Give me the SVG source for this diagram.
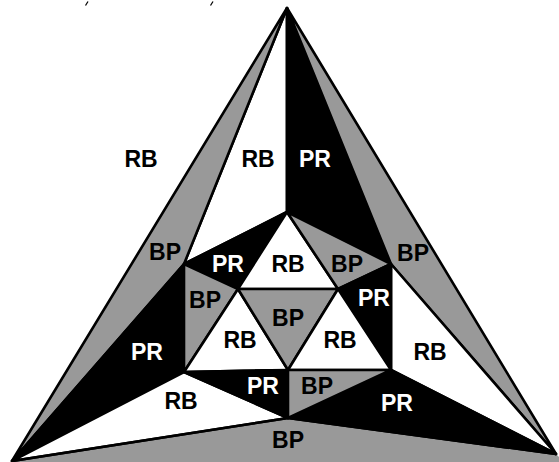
<svg xmlns="http://www.w3.org/2000/svg" width="559" height="462" viewBox="0 0 559 462">
<style>
.r{stroke:#000;stroke-width:2.6;stroke-linejoin:round}
.w{fill:#fff}.k{fill:#000}.g{fill:#999}
text{font-family:"Liberation Sans",Arial,sans-serif;font-weight:bold;font-size:23px;text-anchor:middle}
.tw{fill:#fff}.tk{fill:#000}
</style>
<rect width="559" height="462" fill="#fff"/>
<g id="marks" stroke="#000" stroke-width="1.3">
<line x1="85.5" y1="5.5" x2="88" y2="1.5"/>
<line x1="210.5" y1="5.5" x2="213" y2="1.5"/>
</g>
<g id="outer-ring">
<polygon id="bp-bottom" class="g" points="12,461 288,418 556,454 559,457 559,462 11,462" stroke="none"/>
<polygon id="rb-top" class="r w" points="287,8 184,264 287,212"/>
<polygon id="pr-top" class="r k" points="287,8 287,212 391,264"/>
<polygon id="bp-left" class="r g" points="287,8 184,264 12,461"/>
<polygon id="bp-right" class="r g" points="287,8 391,264 556,454"/>
<polygon id="pr-left" class="r k" points="184,264 184,372 12,461"/>
<polygon id="rb-right" class="r w" points="391,264 391,370 556,454"/>
<polygon id="rb-bl" class="r w" points="184,372 288,418 12,461"/>
<polygon id="pr-br" class="r k" points="391,370 288,418 556,454"/>
<polyline points="12,461 288,418 556,454" fill="none" stroke="#000" stroke-width="2.6" stroke-linejoin="round"/>
</g>
<g id="hexagon">
<polygon id="h-pr1" class="r k" points="287,212 184,264 238,289"/>
<polygon id="h-rb1" class="r w" points="287,212 238,289 338,289"/>
<polygon id="h-bp1" class="r g" points="287,212 391,264 338,289"/>
<polygon id="h-pr2" class="r k" points="391,264 338,289 391,370"/>
<polygon id="h-bp2" class="r g" points="184,264 238,289 184,372"/>
<polygon id="h-rb2" class="r w" points="238,289 184,372 288,370"/>
<polygon id="h-bp3" class="r g" points="238,289 338,289 288,370"/>
<polygon id="h-rb3" class="r w" points="338,289 288,370 391,370"/>
<polygon id="h-pr3" class="r k" points="184,372 288,370 288,418"/>
<polygon id="h-bp4" class="r g" points="288,370 391,370 288,418"/>
</g>
<g id="labels">
<text class="tk" x="141" y="167">RB</text>
<text class="tk" x="258" y="167">RB</text>
<text class="tw" x="315" y="167">PR</text>
<text class="tk" x="165" y="260">BP</text>
<text class="tk" x="413" y="261">BP</text>
<text class="tw" x="228" y="272">PR</text>
<text class="tk" x="288" y="272">RB</text>
<text class="tk" x="347" y="272">BP</text>
<text class="tk" x="205" y="308">BP</text>
<text class="tw" x="374" y="306">PR</text>
<text class="tk" x="288" y="326">BP</text>
<text class="tk" x="240" y="348">RB</text>
<text class="tk" x="340" y="348">RB</text>
<text class="tw" x="147" y="360">PR</text>
<text class="tk" x="430" y="360">RB</text>
<text class="tw" x="263" y="394">PR</text>
<text class="tk" x="317" y="394">BP</text>
<text class="tk" x="181" y="409">RB</text>
<text class="tw" x="397" y="411">PR</text>
<text class="tk" x="288" y="448">BP</text>
</g>
</svg>
